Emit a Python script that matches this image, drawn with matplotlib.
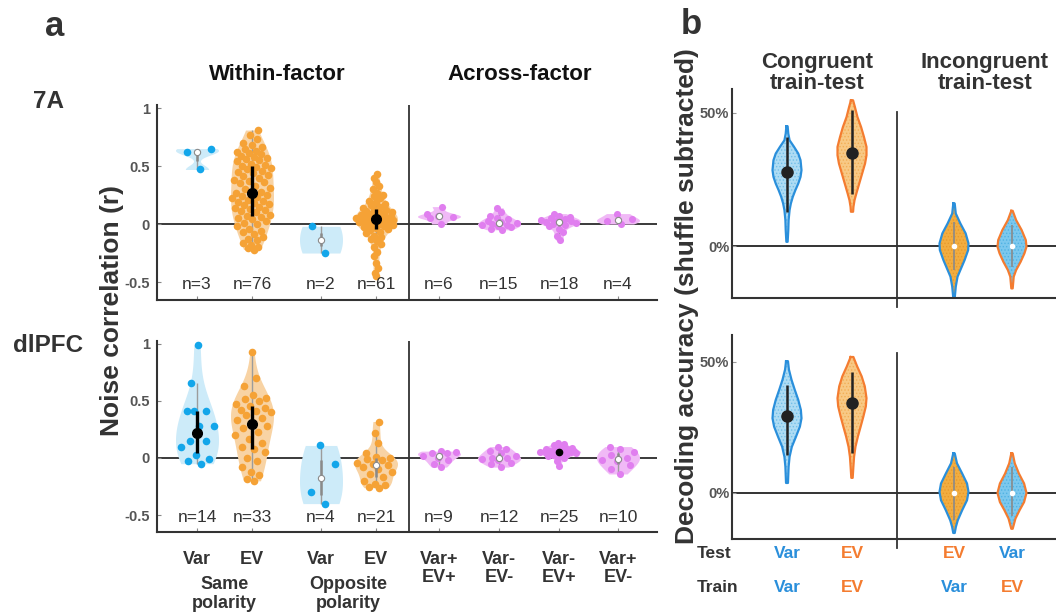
import numpy as np
import matplotlib
matplotlib.use('Agg')
import matplotlib.pyplot as plt
from matplotlib.transforms import blended_transform_factory

plt.rcParams['font.family'] = ['Liberation Sans', 'DejaVu Sans']
plt.rcParams['hatch.linewidth'] = 0.6

W, H = 1056, 614

# ---------------- Panel a data ----------------
cat_labels = ['Var', 'EV', 'Var', 'EV', 'Var+\nEV+', 'Var-\nEV-', 'Var-\nEV+', 'Var+\nEV-']
cat_kind = ['var', 'ev', 'var', 'ev', 'x', 'x', 'x', 'x']
group_labels = ['Same\npolarity', 'Opposite\npolarity']

# 7A
a7_var_same = [0.47, 0.62, 0.65]
a7_ev_same = [-0.22, -0.21, -0.2, -0.18, -0.16, -0.14, -0.13, -0.11, -0.09, -0.07,
              -0.06, -0.04, -0.02, 0.0, 0.01, 0.03, 0.04, 0.05, 0.06,
              0.07, 0.08, 0.1, 0.11, 0.12, 0.13, 0.14, 0.15, 0.16, 0.17,
              0.18, 0.19, 0.2, 0.21, 0.22, 0.23, 0.24, 0.25, 0.26,
              0.27, 0.28, 0.3, 0.31, 0.33, 0.35, 0.36, 0.37, 0.38, 0.4,
              0.41, 0.42, 0.44, 0.45, 0.46, 0.47, 0.48, 0.49, 0.5,
              0.51, 0.52, 0.54, 0.55, 0.56, 0.57, 0.58, 0.59, 0.6,
              0.61, 0.62, 0.63, 0.65, 0.66, 0.68, 0.7, 0.73, 0.77, 0.81]
a7_var_opp = [-0.25, -0.02]
a7_ev_opp = [-0.45, -0.42, -0.38, -0.34, -0.28, -0.24, -0.2, -0.17, -0.15, -0.13,
             -0.11, -0.1, -0.08, -0.07, -0.05,
             -0.04, -0.035, -0.03, -0.02, -0.015, -0.01, 0.0, 0.0, 0.01, 0.015,
             0.02, 0.025, 0.03, 0.035, 0.04, 0.04,
             0.045, 0.05, 0.055, 0.06, 0.065, 0.07, 0.075, 0.08, 0.085, 0.09,
             0.1, 0.105, 0.11, 0.12, 0.13,
             0.14, 0.15, 0.16, 0.17, 0.19, 0.2, 0.22, 0.24, 0.25, 0.27,
             0.3, 0.33, 0.36, 0.4, 0.43]
a7_varp_evp = [0.0, 0.05, 0.06, 0.07, 0.09, 0.15]
a7_varm_evm = [-0.05, -0.04, -0.03, -0.02, -0.01, -0.01, 0.0, 0.01, 0.02, 0.03,
               0.04, 0.05, 0.07, 0.1, 0.14]
a7_varm_evp = [-0.14, -0.1, -0.07, -0.04, -0.02, -0.01, 0.0, 0.01, 0.015, 0.02,
               0.025, 0.03, 0.035, 0.04, 0.05, 0.06, 0.07, 0.09]
a7_varp_evm = [0.0, 0.03, 0.045, 0.09]
sig_7A = [False, True, False, True, False, False, False, False]

# dlPFC
pf_var_same = [-0.05, -0.03, -0.01, 0.03, 0.1, 0.15, 0.15, 0.28, 0.28, 0.41,
               0.41, 0.41, 0.66, 0.99]
pf_ev_same = [-0.2, -0.18, -0.15, -0.12, -0.08, -0.03, 0.0, 0.05, 0.08, 0.1,
              0.13, 0.17, 0.2, 0.23, 0.26, 0.28, 0.3, 0.33, 0.35, 0.38,
              0.4, 0.41, 0.42, 0.44, 0.46, 0.47, 0.5, 0.52, 0.53, 0.55,
              0.63, 0.7, 0.93]
pf_var_opp = [-0.4, -0.3, -0.055, 0.11]
pf_ev_opp = [-0.26, -0.25, -0.24, -0.23, -0.2, -0.17, -0.14, -0.12, -0.1, -0.08,
             -0.065, -0.05, -0.04, -0.02, -0.01, 0.0, 0.01, 0.04, 0.13, 0.22, 0.32]
pf_varp_evp = [-0.08, -0.05, -0.02, 0.0, 0.02, 0.04, 0.045, 0.05, 0.06]
pf_varm_evm = [-0.08, -0.05, -0.04, -0.02, -0.01, 0.0, 0.0, 0.02, 0.04, 0.06, 0.08, 0.1]
pf_varm_evp = [-0.07, -0.03, 0.0, 0.01, 0.02, 0.03, 0.03, 0.04, 0.04, 0.045,
               0.05, 0.05, 0.05, 0.055, 0.06, 0.065, 0.07, 0.075, 0.08, 0.09,
               0.09, 0.1, 0.11, 0.12, 0.13]
pf_varp_evm = [-0.14, -0.1, -0.06, -0.03, -0.02, 0.0, 0.03, 0.05, 0.08, 0.1]
sig_dlPFC = [True, True, False, False, False, False, True, False]

groups_7A = [a7_var_same, a7_ev_same, a7_var_opp, a7_ev_opp,
             a7_varp_evp, a7_varm_evm, a7_varm_evp, a7_varp_evm]
groups_dlPFC = [pf_var_same, pf_ev_same, pf_var_opp, pf_ev_opp,
                pf_varp_evp, pf_varm_evm, pf_varm_evp, pf_varp_evm]

# ---------------- Panel b data (decoding accuracy %, violin outlines) ----------------
b_test = ['Var', 'EV', 'EV', 'Var']
b_train = ['Var', 'EV', 'Var', 'EV']

b7_levels = [
    [45, 42.25, 39.75, 37.25, 34.75, 32.25, 28.5, 26, 23.5, 21, 18.5, 16, 13.5, 9.75, 6, 1.6],
    [54.75, 52.25, 48.5, 44.75, 41, 37.25, 34.1, 31, 27.25, 23.5, 19.75, 17.25, 14.75, 12.9],
    [16, 12.25, 8.5, 4.75, 1, -1.5, -5.25, -9, -11.5, -15.25, -19.6],
    [13.25, 9.75, 6, 2.25, -0.25, -2.75, -5.9, -9, -11.5, -15.9],
]
b7_density = [
    [2, 4, 8, 22, 35, 42, 45, 42, 35, 26, 18, 12, 8, 5, 4, 2],
    [3, 8, 15, 25, 33, 40, 40, 36, 28, 20, 12, 7, 4, 3],
    [2, 5, 18, 33, 41, 40, 30, 18, 10, 5, 2],
    [2, 12, 28, 40, 42, 36, 25, 12, 5, 2],
]
b7_median = [27.9, 35.0, 0.0, 0.0]
b7_lo = [12.9, 19.5, -9.0, -8.0]
b7_hi = [41.0, 51.0, 9.0, 8.0]

bpf_levels = [
    [50.3, 47.1, 43.2, 39.4, 35.5, 31.7, 28.5, 25.3, 21.5, 17.6, 13.8, 10, 3.8],
    [51.9, 48.3, 44.5, 40.7, 36.2, 33, 29.2, 25.3, 21.5, 17.6, 13.8, 10, 5.75],
    [15.1, 11.3, 7.4, 3.6, 0.4, -2.8, -6.6, -10.5, -13, -15.3],
    [15.1, 11.3, 7.4, 3.6, 0, -3.5, -6.6, -9.8, -13.7],
]
bpf_density = [
    [3, 6, 14, 24, 35, 43, 45, 40, 28, 15, 8, 5, 3],
    [4, 15, 28, 37, 42, 40, 33, 25, 17, 10, 6, 4, 2],
    [2, 8, 22, 35, 39, 35, 22, 10, 5, 2],
    [2, 8, 20, 35, 42, 35, 22, 10, 2],
]
bpf_median = [29.4, 34.3, 0.0, 0.0]
bpf_lo = [14.5, 15.1, -10.5, -9.0]
bpf_hi = [41.3, 46.0, 10.0, 10.0]
b_sig = [True, True, False, False]

# ---------------- styling ----------------
DOT = {'var': '#13A6EA', 'ev': '#F5A236', 'x': '#E07EEF'}
FILL = {'var': '#CDEBF9', 'ev': '#F8D3A4', 'x': '#F0B9F6'}
B_LINE = {'Var': '#2A8FDB', 'EV': '#F47C30'}
B_FACE = {('Var', True): '#AEDCF4', ('EV', True): '#F8C985',
          ('Var', False): '#7CC8EE', ('EV', False): '#F2AD40'}
B_HATCH = {('Var', True): '#72BFE8', ('EV', True): '#F2AE55',
           ('Var', False): '#4FB2E3', ('EV', False): '#E8992A'}
TXT = '#333333'
TICKC = '#555555'
cat_pos = [0.8, 1.9, 3.28, 4.38, 5.64, 6.84, 8.04, 9.22]
divider_a = 5.04
b_pos = [1.1, 2.4, 4.44, 5.6]
divider_b = 3.3

fig = plt.figure(figsize=(W / 100, H / 100), dpi=100)


def rect(l, t, r, b):
    return [l / W, 1 - b / H, (r - l) / W, (b - t) / H]


def fx(px):
    return px / W


def fy(py):
    return 1 - py / H


def ks_bw(x):
    x = np.asarray(x, float)
    sig = np.median(np.abs(x - np.median(x))) / 0.6745
    if sig <= 0:
        sig = max(np.std(x), 0.02)
    return sig * (4.0 / (3 * len(x))) ** 0.2


def kde(x, grid, bw):
    x = np.asarray(x, float)
    return np.exp(-0.5 * ((grid[:, None] - x[None, :]) / bw) ** 2).sum(axis=1)


def violin_a(ax, pos, data, kind, sig):
    data = np.asarray(data, float)
    width = 0.43
    bw = ks_bw(data)
    grid = np.linspace(data.min(), data.max(), 200)
    d = kde(data, grid, bw)
    mx = d.max()
    d = d / mx
    ax.fill_betweenx(grid, pos - d * width, pos + d * width, color=FILL[kind], lw=0, zorder=1)
    q1, med, q3 = np.percentile(data, [25, 50, 75])
    iqr = q3 - q1
    lo = data[data >= q1 - 1.5 * iqr].min()
    hi = data[data <= q3 + 1.5 * iqr].max()
    ax.plot([pos, pos], [lo, hi], color='#9c9c9c', lw=1.0, zorder=2, solid_capstyle='butt')
    dd = kde(data, data, bw) / mx
    order = np.argsort(data)
    u = np.empty(len(data))
    u[order] = ((np.arange(len(data)) + 1) * 0.6180339887) % 1.0 * 2 - 1
    s = 30 if kind != 'x' else 26
    ax.scatter(pos + u * dd * width * 0.95, data, s=s, color=DOT[kind], lw=0, zorder=3)
    if sig:
        big = kind != 'x'
        ax.plot([pos, pos], [q1, q3], color='k', lw=2.4 if big else 1.4, zorder=4,
                solid_capstyle='butt')
        ax.plot([pos], [med], 'o', ms=7 if big else 4.5, color='k', zorder=5)
    else:
        ax.plot([pos, pos], [q1, q3], color='#8a8a8a', lw=1.8, zorder=4, solid_capstyle='butt')
        ax.plot([pos], [med], 'o', ms=4.5, mfc='white', mec='#8a8a8a', mew=0.8, zorder=5)


def setup_a(ax, ylim, groups, sig, show_labels):
    ax.set_xlim(0, 10)
    ax.set_ylim(*ylim)
    for sp in ['top', 'right']:
        ax.spines[sp].set_visible(False)
    for sp in ['left', 'bottom']:
        ax.spines[sp].set_color('#333333')
        ax.spines[sp].set_linewidth(1.5)
    ax.axhline(0, color='#3a3a3a', lw=1.4, zorder=0.5)
    ax.axvline(divider_a, color='#333333', lw=1.3, zorder=0.5)
    for i, g in enumerate(groups):
        violin_a(ax, cat_pos[i], g, cat_kind[i], sig[i])
        ax.text(cat_pos[i], -0.52, 'n=%d' % len(g), ha='center', va='center',
                fontsize=12.5, color=TXT)
    ax.set_yticks([-0.5, 0, 0.5, 1])
    ax.set_yticklabels(['-0.5', '0', '0.5', '1'], fontweight='bold', color=TICKC, fontsize=10.5)
    ax.set_xticks(cat_pos)
    ax.tick_params(direction='in', length=3, width=0.8, color='#888888')
    ax.tick_params(axis='y', pad=5)
    if show_labels:
        ax.set_xticklabels(cat_labels, fontsize=13, fontweight='bold', color=TXT,
                           linespacing=1.05)
        ax.tick_params(axis='x', pad=14)
    else:
        ax.set_xticklabels([])


axA1 = fig.add_axes(rect(157, 105, 657, 300))
setup_a(axA1, (-0.655, 1.026), groups_7A, sig_7A, False)
axA2 = fig.add_axes(rect(157, 341, 657, 532))
setup_a(axA2, (-0.649, 1.026), groups_dlPFC, sig_dlPFC, True)

tr = blended_transform_factory(axA2.transData, fig.transFigure)
axA2.text((cat_pos[0] + cat_pos[1]) / 2, fy(594), group_labels[0], transform=tr,
          ha='center', va='center', fontsize=13, fontweight='bold', color=TXT, linespacing=1.1)
axA2.text((cat_pos[2] + cat_pos[3]) / 2, fy(594), group_labels[1], transform=tr,
          ha='center', va='center', fontsize=13, fontweight='bold', color=TXT, linespacing=1.1)


def violin_b(ax, pos, levels, dens, test, train, med, lo, hi, sig):
    y = np.asarray(levels, float)
    d = np.asarray(dens, float)
    d = d / d.max() * 0.29
    ax.fill_betweenx(y, pos - d, pos + d, facecolor=B_FACE[(test, sig)],
                     edgecolor=B_HATCH[(test, sig)], hatch='.....', lw=0, zorder=1)
    ax.plot(np.concatenate([pos - d, (pos + d)[::-1], [pos - d[0]]]),
            np.concatenate([y, y[::-1], [y[0]]]), color=B_LINE[train], lw=1.6, zorder=2)
    if sig:
        ax.plot([pos, pos], [lo, hi], color='#222222', lw=1.8, zorder=3, solid_capstyle='butt')
        ax.plot([pos], [med], 'o', ms=8, color='#222222', zorder=4)
    else:
        ax.plot([pos, pos], [lo, hi], color='#8a8a8a', lw=1.2, zorder=3, solid_capstyle='butt')
        ax.plot([pos], [med], 'o', ms=3, mfc='white', mec='white', zorder=4)


def setup_b(ax, ylim, div_span, levels, dens, med, lo, hi):
    ax.set_xlim(0, 6.48)
    ax.set_ylim(*ylim)
    for sp in ['top', 'right']:
        ax.spines[sp].set_visible(False)
    for sp in ['left', 'bottom']:
        ax.spines[sp].set_color('#333333')
        ax.spines[sp].set_linewidth(1.5)
    ax.axhline(0, color='#333333', lw=1.4, zorder=0.5)
    ax.plot([divider_b, divider_b], div_span, color='#333333', lw=1.3, clip_on=False, zorder=0.5)
    for i in range(4):
        violin_b(ax, b_pos[i], levels[i], dens[i], b_test[i], b_train[i],
                 med[i], lo[i], hi[i], b_sig[i])
    ax.set_xticks([])
    ax.set_yticks([0, 50])
    ax.set_yticklabels(['0%', '50%'], fontweight='bold', color=TICKC, fontsize=10.5)
    ax.tick_params(axis='y', direction='in', length=3, width=0.8, color='#999999', pad=2)


axB1 = fig.add_axes(rect(732, 89, 1056, 298))
setup_b(axB1, (-19.5, 59.0), (50.4, -22.9), b7_levels, b7_density, b7_median, b7_lo, b7_hi)
axB2 = fig.add_axes(rect(732, 335, 1056, 539))
setup_b(axB2, (-17.6, 60.3), (53.4, -21.0), bpf_levels, bpf_density, bpf_median, bpf_lo, bpf_hi)

trb = blended_transform_factory(axB2.transData, fig.transFigure)
for i in range(4):
    axB2.text(b_pos[i], fy(553), b_test[i], transform=trb, ha='center', va='center',
              fontsize=12.5, fontweight='bold', color=B_LINE[b_test[i]])
    axB2.text(b_pos[i], fy(587), b_train[i], transform=trb, ha='center', va='center',
              fontsize=12.5, fontweight='bold', color=B_LINE[b_train[i]])
fig.text(fx(697), fy(553), 'Test', ha='left', va='center', fontsize=12.5, fontweight='bold', color=TXT)
fig.text(fx(697), fy(587), 'Train', ha='left', va='center', fontsize=12.5, fontweight='bold', color=TXT)

# ---------------- titles / labels ----------------
fig.text(fx(55), fy(26), 'a', ha='center', va='center', fontsize=25, fontweight='bold', color=TXT)
fig.text(fx(691), fy(24), 'b', ha='center', va='center', fontsize=25, fontweight='bold', color=TXT)
fig.text(fx(48), fy(102), '7A', ha='center', va='center', fontsize=17.5, fontweight='bold', color=TXT)
fig.text(fx(48), fy(345), 'dlPFC', ha='center', va='center', fontsize=17.5, fontweight='bold', color=TXT)
fig.text(fx(277), fy(74), 'Within-factor', ha='center', va='center', fontsize=16, fontweight='bold', color='#111111')
fig.text(fx(520), fy(74), 'Across-factor', ha='center', va='center', fontsize=16, fontweight='bold', color='#111111')
fig.text(fx(112), fy(311), 'Noise correlation (r)', ha='center', va='center', rotation=90,
         fontsize=19, fontweight='bold', color=TXT)
fig.text(fx(687), fy(296), 'Decoding accuracy (shuffle subtracted)', ha='center', va='center',
         rotation=90, fontsize=19, fontweight='bold', color=TXT)
fig.text(fx(817), fy(73), 'Congruent\ntrain-test', ha='center', va='center', fontsize=16,
         fontweight='bold', color=TXT, linespacing=1.05)
fig.text(fx(985), fy(73), 'Incongruent\ntrain-test', ha='center', va='center', fontsize=16,
         fontweight='bold', color=TXT, linespacing=1.05)

fig.savefig('out.png', dpi=100)
